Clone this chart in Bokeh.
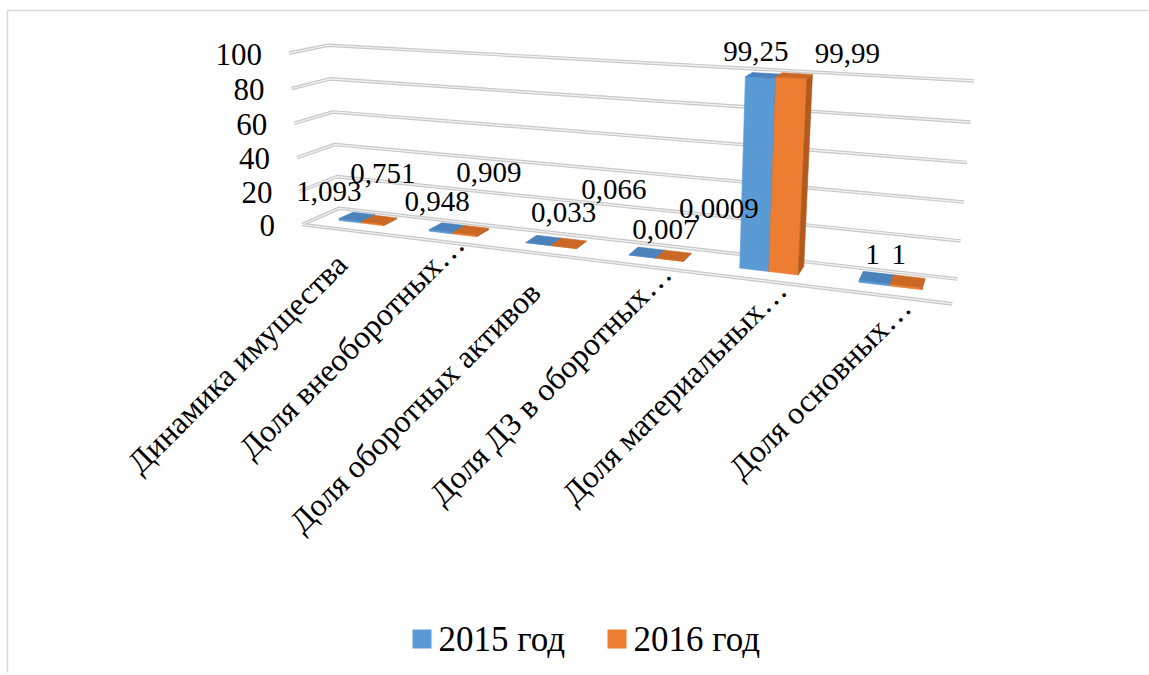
import numpy as np
from bokeh.plotting import figure
from bokeh.models import Range1d
from bokeh.embed import file_html
from bokeh.resources import INLINE
from bokeh.core.properties import value

# ---- data -------------------------------------------------------------
categories = ["Динамика имущества", "Доля внеоборотных…", "Доля оборотных активов",
              "Доля ДЗ в оборотных…", "Доля материальных…", "Доля основных…"]
series_names = ["2015 год", "2016 год"]
values_2015 = [1.093, 0.948, 0.033, 0.007, 99.25, 1]
values_2016 = [0.751, 0.909, 0.066, 0.0009, 99.99, 1]
y_ticks = [0, 20, 40, 60, 80, 100]

# ---- styling ----------------------------------------------------------
FONT = "Liberation Serif"
FRONT = ["#5B9BD5", "#ED7D31"]
TOP = ["#4C82BC", "#CC6826"]
SIDE = ["#41719C", "#B25A1E"]
GRID_OUT = "#c8c8c8"
GRID_IN = "#f3f3f3"

# ---- 3-D view ---------------------------------------------------------
# World space: x = category slot (0..6), y = value (0..100),
# z = depth (0 = front of floor, 1 = back wall).
# The camera is calibrated from where the box corners sit on the page.
BOX_WORLD = [
    (0, 100, 1), (0, 80, 1), (0, 60, 1), (0, 40, 1), (0, 20, 1), (0, 0, 1),
    (6, 100, 1), (6, 80, 1), (6, 60, 1), (6, 40, 1), (6, 20, 1), (6, 0, 1),
    (0, 100, 0), (0, 80, 0), (0, 60, 0), (0, 40, 0), (0, 20, 0), (0, 0, 0),
    (6, 0, 0),
]
BOX_PAGE = [
    (328, 44), (331, 78), (333, 111), (335, 144), (336, 177), (337, 209),
    (973, 80), (970, 122), (967, 162), (963, 202), (960, 240), (957, 278),
    (287, 53), (291, 89), (293, 123), (297, 157), (300, 191), (302, 222),
    (952, 304),
]


def fit_camera(world, page):
    W = np.asarray(world, float)
    S = np.asarray(page, float)
    wm, ws = W.mean(0), W.std(0)
    sm, ss = S.mean(0), S.std(0).mean()
    Wn = (W - wm) / ws
    Sn = (S - sm) / ss
    rows = []
    for (x, y, z), (u, v) in zip(Wn, Sn):
        rows.append([x, y, z, 1, 0, 0, 0, 0, -u * x, -u * y, -u * z, -u])
        rows.append([0, 0, 0, 0, x, y, z, 1, -v * x, -v * y, -v * z, -v])
    _, _, vt = np.linalg.svd(np.array(rows))
    Pn = vt[-1].reshape(3, 4)
    Tw = np.eye(4)
    Tw[:3, :3] = np.diag(1 / ws)
    Tw[:3, 3] = -wm / ws
    Ts = np.array([[1 / ss, 0, -sm[0] / ss], [0, 1 / ss, -sm[1] / ss], [0, 0, 1]])
    return np.linalg.inv(Ts) @ Pn @ Tw


P = fit_camera(BOX_WORLD, BOX_PAGE)


def proj(x, y, z):
    h = P @ np.array([x, y, z, 1.0])
    return h[0] / h[2], h[1] / h[2]


def proj_poly(pts):
    uv = [proj(*p) for p in pts]
    return [a for a, _ in uv], [b for _, b in uv]


# ---- figure -----------------------------------------------------------
W_PX, H_PX = 1149, 675
p = figure(width=W_PX, height=H_PX, x_range=Range1d(0, W_PX), y_range=Range1d(H_PX, 0),
           x_axis_type=None, y_axis_type=None, toolbar_location=None,
           output_backend="svg", min_border=0)
p.outline_line_color = None
p.grid.visible = False
p.background_fill_color = "white"

# chart-area border
p.line([7, 7, 1148], [672, 10, 10], line_color="#d9d9d9", line_width=1.5)

# ---- walls, floor and gridlines ---------------------------------------
n_cat = len(categories)
seg_xs, seg_ys = [], []
for t in y_ticks:
    # side wall piece, then back wall piece
    xs, ys = proj_poly([(0, t, 0), (0, t, 1), (n_cat, t, 1)])
    seg_xs.append(xs)
    seg_ys.append(ys)
# front edge of the floor
xs, ys = proj_poly([(0, 0, 0), (n_cat, 0, 0)])
seg_xs.append(xs)
seg_ys.append(ys)

p.multi_line(seg_xs, seg_ys, line_color=GRID_OUT, line_width=3.6, line_join="round")
p.multi_line(seg_xs, seg_ys, line_color=GRID_IN, line_width=1.2, line_join="round")

# y tick labels
tx, ty = [], []
for t in y_ticks:
    u, v = proj(0, t, 0)
    tx.append(u - 27)
    ty.append(v + 1)
p.text(tx, ty, text=[str(t) for t in y_ticks], text_font=value(FONT), text_font_size="31px",
       text_align="right", text_baseline="middle", text_color="black")

# ---- bars --------------------------------------------------------------
BAR_W = 0.25
Z_FRONT, Z_BACK = 0.40, 0.79
series = [values_2015, values_2016]

for i in range(n_cat):
    for s, vals in enumerate(series):
        h = vals[i]
        x0 = i + 0.5 - BAR_W + s * BAR_W
        x1 = x0 + BAR_W
        faces = [
            ([(x0, 0, Z_FRONT), (x1, 0, Z_FRONT), (x1, h, Z_FRONT), (x0, h, Z_FRONT)], FRONT[s]),
            ([(x1, 0, Z_FRONT), (x1, 0, Z_BACK), (x1, h, Z_BACK), (x1, h, Z_FRONT)], SIDE[s]),
            ([(x0, h, Z_FRONT), (x1, h, Z_FRONT), (x1, h, Z_BACK), (x0, h, Z_BACK)], TOP[s]),
        ]
        fx, fy, fc = [], [], []
        for pts, col in faces:
            xs, ys = proj_poly(pts)
            fx.append(xs)
            fy.append(ys)
            fc.append(col)
        p.patches(fx, fy, fill_color=fc, line_color=fc, line_width=0.6)

# ---- data labels -------------------------------------------------------
# page shifts of each value label from the top of its bar
LABEL_SHIFT = [
    [(-28, -25), (-10, -26), (20, -28), (18, -23), (-8, -24), (-4, -23)],
    [(4, -46), (18, -58), (45, -54), (45, -47), (53, -22), (-9, -27)],
]
lx, ly, lt = [], [], []
for s, vals in enumerate(series):
    for i, h in enumerate(vals):
        xc = i + 0.5 - BAR_W / 2 + s * BAR_W
        u, v = proj(xc, h, (Z_FRONT + Z_BACK) / 2)
        dx, dy = LABEL_SHIFT[s][i]
        lx.append(u + dx)
        ly.append(v + dy)
        lt.append(f"{h:g}".replace(".", ","))
p.text(lx, ly, text=lt, text_font=value(FONT), text_font_size="29px",
       text_align="center", text_baseline="middle", text_color="black")

# ---- category labels ---------------------------------------------------
# shortened names (ending in "…") sit further along the slant
cx, cy = [], []
for i, name in enumerate(categories):
    u, v = proj(i + 0.5, 0, 0)
    dx, dy = (-5, 29 + 2.2 * i)
    if name.endswith("…"):
        dx, dy = dx + 24, dy - 34
    cx.append(u + dx)
    cy.append(v + dy)
p.text(cx, cy, text=categories, text_font=value(FONT), text_font_size="32px",
       text_align="right", text_baseline="middle", angle=np.pi / 4, text_color="black")

# ---- legend ------------------------------------------------------------
leg_sq_x = [412, 607]
leg_txt_x = [438, 633]
leg_y = 638.5
p.quad(left=leg_sq_x, right=[x + 19 for x in leg_sq_x], top=[leg_y - 9.5] * 2,
       bottom=[leg_y + 9.5] * 2, fill_color=FRONT, line_color=None)
p.text(leg_txt_x, [leg_y] * 2, text=series_names, text_font=value(FONT), text_font_size="35px",
       text_align="left", text_baseline="middle", text_color="black")

open("out.html", "w").write(file_html(p, INLINE))
